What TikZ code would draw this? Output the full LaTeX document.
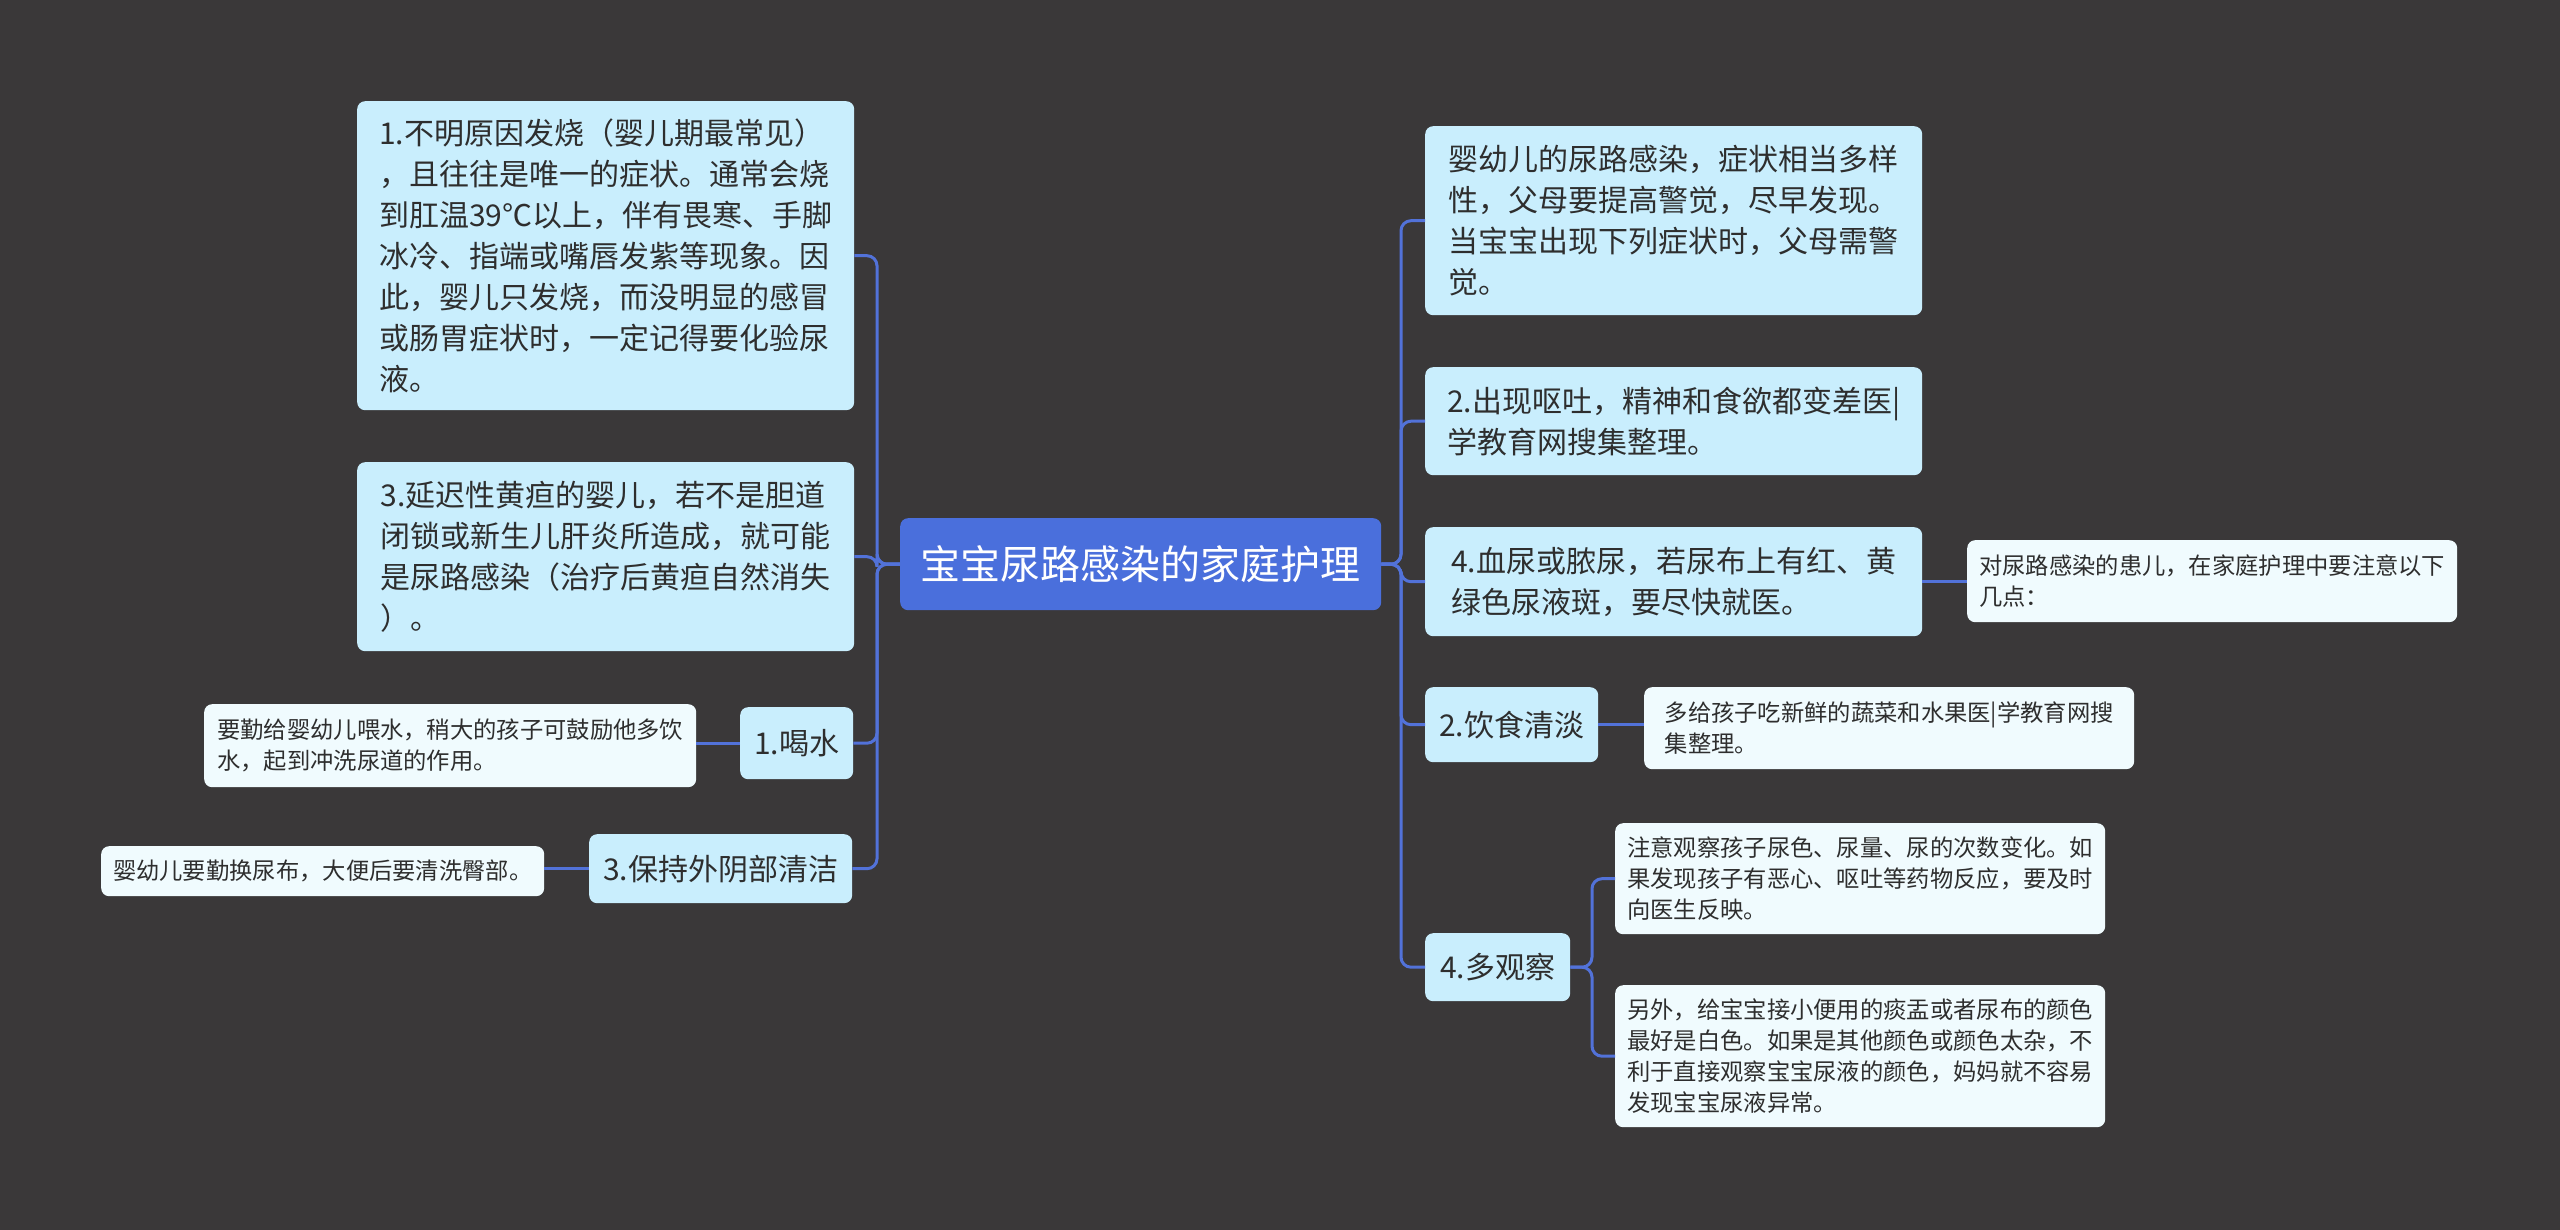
\documentclass[tikz,border=0pt]{standalone}
\usepackage{fontspec}
\setmainfont{Noto Sans CJK SC}
\definecolor{bg}{HTML}{3A3839}
\definecolor{rootc}{HTML}{4A6FDC}
\definecolor{linec}{HTML}{5272D9}
\definecolor{mainc}{HTML}{C9EEFD}
\definecolor{leafc}{HTML}{F0FBFE}
\definecolor{txt}{HTML}{2E2E2E}
\tikzset{
  anybox/.style={rounded corners=8pt, anchor=north west, inner xsep=14pt, inner ysep=0pt, text=txt, align=left},
  rootbox/.style={anybox, fill=rootc, text=white, align=center, font=\fontsize{40}{46}\selectfont},
  mainbox/.style={anybox, fill=mainc, font=\fontsize{30}{41}\selectfont},
  leafbox/.style={anybox, fill=leafc, inner xsep=10pt, font=\fontsize{23.3}{31}\selectfont},
  conn/.style={draw=linec, line width=3pt, rounded corners=10pt},
  sz/.style 2 args={minimum width=#1pt, minimum height=#2pt},
}
\begin{document}
\begin{tikzpicture}[x=1pt,y=-1pt]
\useasboundingbox (0,0) rectangle (2560,1230);
\fill[bg] (0,0) rectangle (2560,1230);
\coordinate (spineL) at (877,0);
\coordinate (spineR) at (1401,0);
\coordinate (spineO) at (1592,0);

% root
\node[rootbox, sz={481}{92}] (root) at (900,518) {宝宝尿路感染的家庭护理};

% left side
\node[mainbox, sz={497}{309}] (L1) at (357,101) {1.不明原因发烧（婴儿期最常见）\\，且往往是唯一的症状。通常会烧\\到肛温39℃以上，伴有畏寒、手脚\\冰冷、指端或嘴唇发紫等现象。因\\此，婴儿只发烧，而没明显的感冒\\或肠胃症状时，一定记得要化验尿\\液。};
\node[mainbox, sz={497}{189}] (L3) at (357,462) {3.延迟性黄疸的婴儿，若不是胆道\\闭锁或新生儿肝炎所造成，就可能\\是尿路感染（治疗后黄疸自然消失\\）。};
\node[mainbox, sz={112}{72}, align=center] (water) at (740,707) {1.喝水};
\node[leafbox, sz={492}{83}] (waterleaf) at (204,704) {要勤给婴幼儿喂水，稍大的孩子可鼓励他多饮\\水，起到冲洗尿道的作用。};
\node[mainbox, sz={263}{69}, align=center] (clean) at (589,834) {3.保持外阴部清洁};
\node[leafbox, sz={443}{50}] (cleanleaf) at (101,846) {婴幼儿要勤换尿布，大便后要清洗臀部。};

% right side
\node[mainbox, sz={497}{189}] (R1) at (1425,126) {婴幼儿的尿路感染，症状相当多样\\性，父母要提高警觉，尽早发现。\\当宝宝出现下列症状时，父母需警\\觉。};
\node[mainbox, sz={497}{108}] (R2) at (1425,367) {2.出现呕吐，精神和食欲都变差医|\\学教育网搜集整理。};
\node[mainbox, sz={497}{109}] (R3) at (1425,527) {4.血尿或脓尿，若尿布上有红、黄\\绿色尿液斑，要尽快就医。};
\node[leafbox, sz={490}{82}] (R3leaf) at (1967,540) {对尿路感染的患儿，在家庭护理中要注意以下\\几点：};
\node[mainbox, sz={172}{75}, align=center] (diet) at (1425,687) {2.饮食清淡};
\node[leafbox, sz={490}{82}] (dietleaf) at (1644,687) {多给孩子吃新鲜的蔬菜和水果医|学教育网搜\\集整理。};
\node[mainbox, sz={145}{68}, align=center] (obs) at (1425,933) {4.多观察};
\node[leafbox, sz={490}{111}] (obsleaf1) at (1615,823) {注意观察孩子尿色、尿量、尿的次数变化。如\\果发现孩子有恶心、呕吐等药物反应，要及时\\向医生反映。};
\node[leafbox, sz={490}{142}] (obsleaf2) at (1615,985) {另外，给宝宝接小便用的痰盂或者尿布的颜色\\最好是白色。如果是其他颜色或颜色太杂，不\\利于直接观察宝宝尿液的颜色，妈妈就不容易\\发现宝宝尿液异常。};

% connectors
\foreach \c in {L1,L3,water,clean}
  \draw[conn] (root.west) -- (root.west -| spineL) |- (\c.east);
\foreach \c in {R1,R2,R3,diet,obs}
  \draw[conn] (root.east) -- (root.east -| spineR) |- (\c.west);
\draw[conn] (water.west) -- (water.west -| waterleaf.east);
\draw[conn] (clean.west) -- (clean.west -| cleanleaf.east);
\draw[conn] (R3.east) -- (R3.east -| R3leaf.west);
\draw[conn] (diet.east) -- (diet.east -| dietleaf.west);
\draw[conn] (obs.east) -- (obs.east -| spineO) |- (obsleaf1.west);
\draw[conn] (obs.east) -- (obs.east -| spineO) |- (obsleaf2.west);
\end{tikzpicture}
\end{document}
